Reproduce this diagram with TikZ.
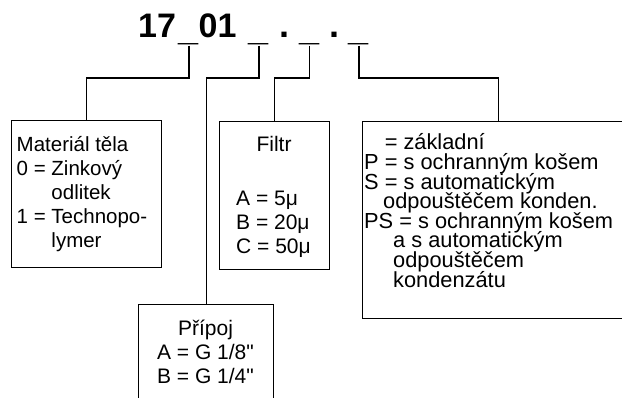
\documentclass[tikz,border=0pt]{standalone}
\usepackage{fontspec}
\setmainfont{Liberation Sans}[Ligatures=TeXOff]
\begin{document}
\begin{tikzpicture}[x=1pt,y=-1pt,
  box/.style={draw, line width=1.4pt, rectangle, inner sep=0pt, anchor=north west},
  wire/.style={line width=1.4pt},
  txt/.style={inner sep=0pt, anchor=base west, font=\fontsize{21}{24}\selectfont},
  txtw/.style={inner sep=0pt, anchor=base west, font=\fontsize{21.8}{24}\selectfont},
  txtc/.style={inner sep=0pt, anchor=base, font=\fontsize{21}{24}\selectfont},
  txtm/.style={inner sep=0pt, anchor=base west, font=\fontsize{20.5}{24}\selectfont},
  code/.style={inner sep=0pt, anchor=base west, font=\bfseries\fontsize{34}{40}\selectfont},
  slot/.style={inner sep=0pt, anchor=base, font=\bfseries\fontsize{36}{40}\selectfont}]
\useasboundingbox (0,0) rectangle (622,398);
\clip (0,0) rectangle (622,398);

% type code: fixed part and the three open positions
\node[code] (t17) at (138,37.5) {17};
\node[slot] (u1) at (189,37.5) {\raisebox{-3.5pt}{\_}};
\node[code] (t01) at (198.5,37.5) {01};
\node[slot] (u2) at (259,37.5) {\raisebox{-3.5pt}{\_}};
\node[slot] (d1) at (284,37.5) {.};
\node[slot] (u3) at (309.5,37.5) {\raisebox{-3.5pt}{\_}};
\node[slot] (d2) at (334.5,37.5) {.};
\node[slot] (u4) at (359,37.5) {\raisebox{-3.5pt}{\_}};

% option boxes
\node[box, minimum width=150pt, minimum height=147pt] (b1) at (11,120) {};
\node[box, minimum width=110pt, minimum height=148pt] (b3) at (219,121) {};
\node[box, minimum width=135pt, minimum height=116pt] (b2) at (138,304) {};
\node[box, minimum width=272pt, minimum height=197pt] (b4) at (362,121) {};

% connectors from the code positions to the boxes
\coordinate (lvl) at (0,78);
\draw[wire] (u1.south) -- (u1.south |- lvl) -| (b1.north);
\draw[wire] (u2.south) -- (u2.south |- lvl) -| (b2.north);
\draw[wire] (u3.south) -- (u3.south |- lvl) -| (b3.north);
\draw[wire] (u4.south) -- (u4.south |- lvl) -| (b4.north);

% body material
\node[txtm] (m1) at (16.5,152) {Materiál těla};
\node[txtm] (m2) at (16.5,176) {0 = Zinkový};
\node[txtm] (m3) at (16.5,200) {\phantom{0 = }odlitek};
\node[txtm] (m4) at (16.5,224) {1 = Technopo-};
\node[txtm] (m5) at (16.5,248) {\phantom{1 = }lymer};

% filter
\node[txtc] (f0) at (274,152) {Filtr};
\node[txt] (f1) at (236,206) {A = 5μ};
\node[txt] (f2) at (236,230) {B = 20μ};
\node[txt] (f3) at (236,254) {C = 50μ};

% port
\node[txtc] (p0) at (205.5,336) {Přípoj};
\node[txtc] (p1) at (205.5,360) {A = G 1/8"};
\node[txtc] (p2) at (205.5,384) {B = G 1/4"};

% accessories
\node[txtw] (a1) at (364,150) {\phantom{P }= základní};
\node[txtw] (a2) at (364,169.6) {P = s ochranným košem};
\node[txtw] (a3) at (364,189.2) {S = s automatickým};
\node[txtw] (a4) at (383,208.8) {odpouštěčem konden.};
\node[txtw] (a5) at (364,228.4) {PS = s ochranným košem};
\node[txtw] (a6) at (393,248) {a s automatickým};
\node[txtw] (a7) at (393,267.6) {odpouštěčem};
\node[txtw] (a8) at (393,287.2) {kondenzátu};
\end{tikzpicture}
\end{document}
